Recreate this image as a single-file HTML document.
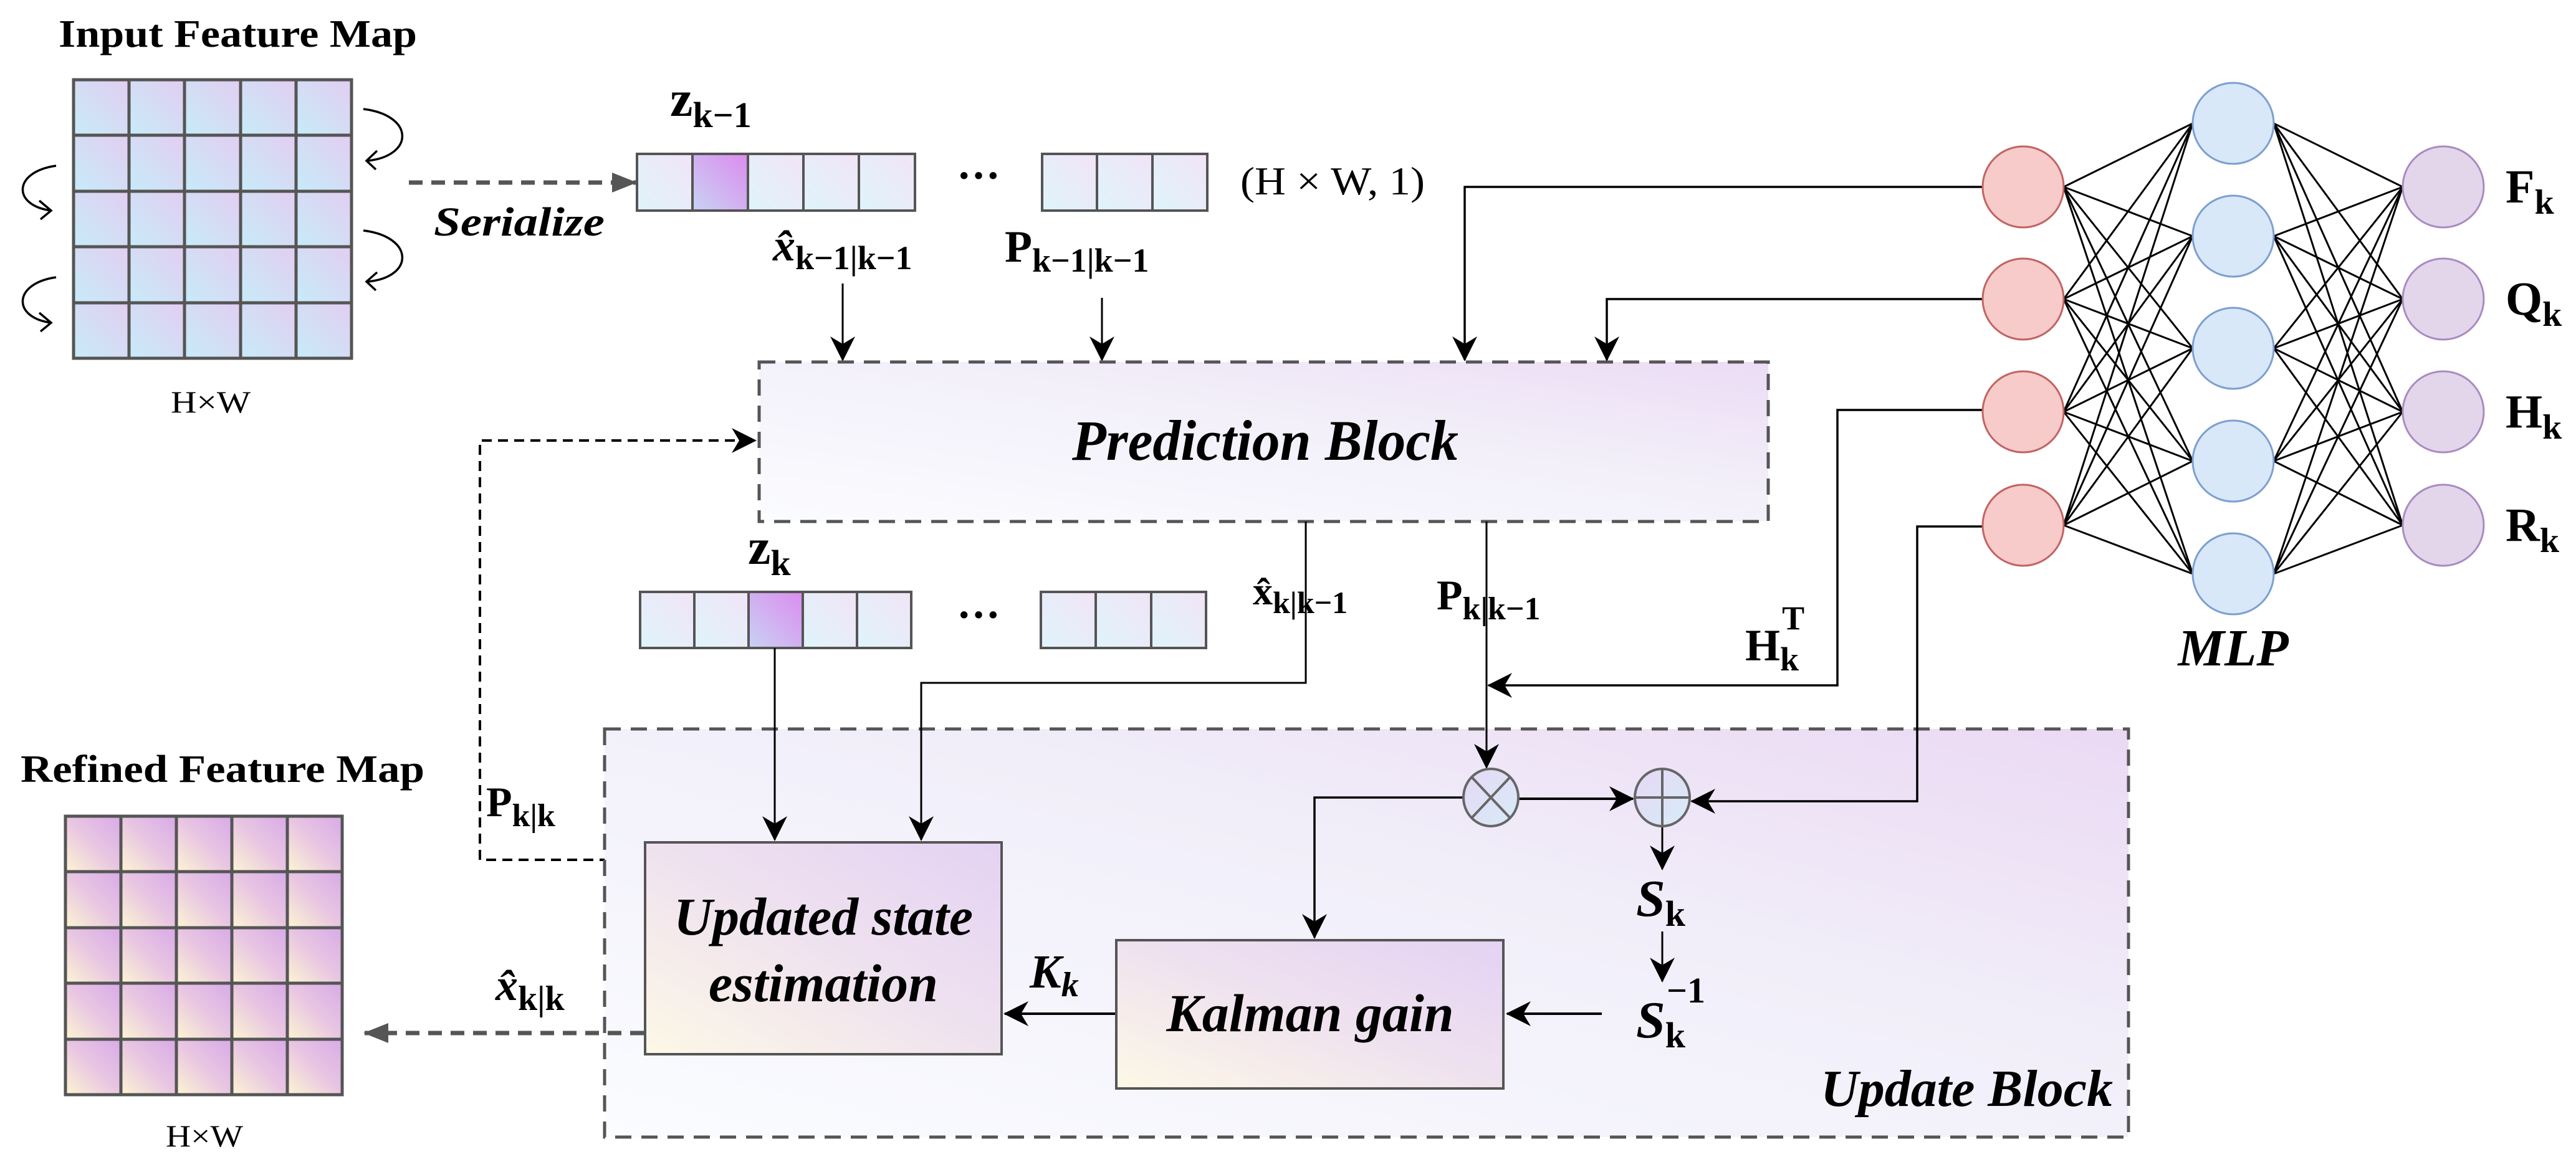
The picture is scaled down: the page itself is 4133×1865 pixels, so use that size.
<!DOCTYPE html>
<html><head><meta charset="utf-8"><style>
html,body{margin:0;padding:0;background:#fff;}
svg{display:block;}
text{font-family:"Liberation Serif",serif;fill:#000;}
.b{font-weight:bold;}
.bi{font-weight:bold;font-style:italic;}
</style></head><body>
<svg width="4133" height="1865" viewBox="0 0 4133 1865" xmlns="http://www.w3.org/2000/svg">
<defs>
<linearGradient id="gin" x1="0" y1="1" x2="1" y2="0"><stop offset="0" stop-color="#c6ecf8"/><stop offset="1" stop-color="#e3cdf1"/></linearGradient>
<linearGradient id="gout" x1="0" y1="1" x2="1" y2="0"><stop offset="0" stop-color="#fdf5d2"/><stop offset="0.5" stop-color="#e8c6e2"/><stop offset="1" stop-color="#d8aae8"/></linearGradient>
<linearGradient id="gbar" x1="0" y1="1" x2="1" y2="0"><stop offset="0" stop-color="#dff4fb"/><stop offset="1" stop-color="#f1e4f6"/></linearGradient>
<linearGradient id="ghi" x1="0" y1="1" x2="1" y2="0"><stop offset="0" stop-color="#c8d2f4"/><stop offset="1" stop-color="#dc8cee"/></linearGradient>
<linearGradient id="gpred" x1="0" y1="1" x2="1" y2="0"><stop offset="0" stop-color="#fbfcff"/><stop offset="0.6" stop-color="#f2eff9"/><stop offset="1" stop-color="#ecdcf5"/></linearGradient>
<linearGradient id="gupd" x1="0" y1="1" x2="1" y2="0"><stop offset="0" stop-color="#fafcff"/><stop offset="0.6" stop-color="#f1eef9"/><stop offset="1" stop-color="#ebd9f3"/></linearGradient>
<linearGradient id="gbox" x1="0" y1="1" x2="1" y2="0"><stop offset="0" stop-color="#fdf8e6"/><stop offset="0.5" stop-color="#efe2ef"/><stop offset="1" stop-color="#e4d2f3"/></linearGradient>
<linearGradient id="gop" x1="0" y1="0" x2="1" y2="1"><stop offset="0" stop-color="#e6d8f4"/><stop offset="1" stop-color="#d7ebf8"/></linearGradient>
<marker id="arb" viewBox="0 0 20 20" refX="19" refY="10" markerWidth="40" markerHeight="40" markerUnits="userSpaceOnUse" orient="auto"><path d="M0,0 L20,10 L0,20 L6,10 Z" fill="#000"/></marker>
<marker id="arg" viewBox="0 0 20 20" refX="19" refY="10" markerWidth="40" markerHeight="40" markerUnits="userSpaceOnUse" orient="auto"><path d="M0,2 L20,10 L0,18 Z" fill="#555"/></marker>
</defs>

<!-- Input feature map -->
<text x="94" y="75" class="b" font-size="62" textLength="575" lengthAdjust="spacingAndGlyphs">Input Feature Map</text>
<g stroke="#555" stroke-width="5">
<rect x="118" y="128" width="89" height="89" fill="url(#gin)"/><rect x="207" y="128" width="89" height="89" fill="url(#gin)"/><rect x="296" y="128" width="90" height="89" fill="url(#gin)"/><rect x="386" y="128" width="89" height="89" fill="url(#gin)"/><rect x="475" y="128" width="89" height="89" fill="url(#gin)"/>
<rect x="118" y="217" width="89" height="90" fill="url(#gin)"/><rect x="207" y="217" width="89" height="90" fill="url(#gin)"/><rect x="296" y="217" width="90" height="90" fill="url(#gin)"/><rect x="386" y="217" width="89" height="90" fill="url(#gin)"/><rect x="475" y="217" width="89" height="90" fill="url(#gin)"/>
<rect x="118" y="307" width="89" height="89" fill="url(#gin)"/><rect x="207" y="307" width="89" height="89" fill="url(#gin)"/><rect x="296" y="307" width="90" height="89" fill="url(#gin)"/><rect x="386" y="307" width="89" height="89" fill="url(#gin)"/><rect x="475" y="307" width="89" height="89" fill="url(#gin)"/>
<rect x="118" y="396" width="89" height="90" fill="url(#gin)"/><rect x="207" y="396" width="89" height="90" fill="url(#gin)"/><rect x="296" y="396" width="90" height="90" fill="url(#gin)"/><rect x="386" y="396" width="89" height="90" fill="url(#gin)"/><rect x="475" y="396" width="89" height="90" fill="url(#gin)"/>
<rect x="118" y="486" width="89" height="89" fill="url(#gin)"/><rect x="207" y="486" width="89" height="89" fill="url(#gin)"/><rect x="296" y="486" width="90" height="89" fill="url(#gin)"/><rect x="386" y="486" width="89" height="89" fill="url(#gin)"/><rect x="475" y="486" width="89" height="89" fill="url(#gin)"/>
</g>
<g fill="none" stroke="#000" stroke-width="3.5">
<path d="M583,175 C665,185 665,250 590,258"/><path d="M605,242 L588,258 L603,272"/>
<path d="M583,370 C665,380 665,445 590,452"/><path d="M605,437 L588,452 L603,466"/>
<path d="M90,266 C20,276 20,330 82,338"/><path d="M63,322 L82,338 L65,352"/>
<path d="M90,445 C20,455 20,510 82,518"/><path d="M63,502 L82,518 L65,532"/>
</g>
<text x="338" y="662" font-size="50" text-anchor="middle" textLength="128" lengthAdjust="spacingAndGlyphs">H×W</text>

<!-- serialize -->
<line x1="656" y1="293" x2="1020" y2="293" stroke="#555" stroke-width="7" stroke-dasharray="22,14" marker-end="url(#arg)"/>
<text x="696" y="378" class="bi" font-size="66" textLength="274" lengthAdjust="spacingAndGlyphs">Serialize</text>

<!-- z_{k-1} bar -->
<text x="1075" y="186" class="b" font-size="82">z<tspan font-size="58" dy="18">k−1</tspan></text>
<g stroke="#555" stroke-width="4">
<rect x="1022" y="247" width="89" height="91" fill="url(#gbar)"/><rect x="1111" y="247" width="89" height="91" fill="url(#ghi)"/><rect x="1200" y="247" width="89" height="91" fill="url(#gbar)"/><rect x="1289" y="247" width="89" height="91" fill="url(#gbar)"/><rect x="1378" y="247" width="90" height="91" fill="url(#gbar)"/>
<rect x="1672" y="247" width="88" height="91" fill="url(#gbar)"/><rect x="1760" y="247" width="89" height="91" fill="url(#gbar)"/><rect x="1849" y="247" width="88" height="91" fill="url(#gbar)"/>
</g>
<text x="1570" y="305" class="b" font-size="70" text-anchor="middle">···</text>
<text x="1990" y="312" font-size="64" textLength="296" lengthAdjust="spacingAndGlyphs">(H × W, 1)</text>
<text x="1240" y="418" class="bi" font-size="72">x̂<tspan font-style="normal" font-size="54" dy="14">k−1|k−1</tspan></text>
<text x="1612" y="420" class="b" font-size="72">P<tspan font-size="54" dy="16">k−1|k−1</tspan></text>
<g stroke="#000" stroke-width="3" fill="none">
<line x1="1352" y1="455" x2="1352" y2="578" marker-end="url(#arb)"/>
<line x1="1768" y1="478" x2="1768" y2="578" marker-end="url(#arb)"/>
</g>

<!-- Prediction block -->
<rect x="1218" y="581" width="1619" height="256" fill="url(#gpred)" stroke="#555" stroke-width="5" stroke-dasharray="26,16"/>
<text x="2030" y="738" class="bi" font-size="92" text-anchor="middle" textLength="620" lengthAdjust="spacingAndGlyphs">Prediction Block</text>

<!-- feedback dashed -->
<path d="M1030,1380 L770,1380 L770,707 L1212,707" fill="none" stroke="#000" stroke-width="4" stroke-dasharray="16,10" marker-end="url(#arb)"/>
<text x="780" y="1310" class="b" font-size="68">P<tspan font-size="52" dy="16">k|k</tspan></text>

<!-- z_k bar -->
<text x="1200" y="905" class="b" font-size="82">z<tspan font-size="58" dy="18">k</tspan></text>
<g stroke="#555" stroke-width="4">
<rect x="1027" y="950" width="87" height="90" fill="url(#gbar)"/><rect x="1114" y="950" width="87" height="90" fill="url(#gbar)"/><rect x="1201" y="950" width="87" height="90" fill="url(#ghi)"/><rect x="1288" y="950" width="87" height="90" fill="url(#gbar)"/><rect x="1375" y="950" width="87" height="90" fill="url(#gbar)"/>
<rect x="1670" y="950" width="88" height="90" fill="url(#gbar)"/><rect x="1758" y="950" width="89" height="90" fill="url(#gbar)"/><rect x="1847" y="950" width="88" height="90" fill="url(#gbar)"/>
</g>
<text x="1570" y="1010" class="b" font-size="70" text-anchor="middle">···</text>
<text x="2010" y="970" class="b" font-size="64">x̂<tspan font-size="50" dy="14">k|k−1</tspan></text>
<text x="2305" y="978" class="b" font-size="68">P<tspan font-size="52" dy="16">k|k−1</tspan></text>
<text x="2800" y="1060" class="b" font-size="72">H<tspan font-size="54" dy="16">k</tspan><tspan font-size="54" dx="-27" dy="-66">T</tspan></text>

<!-- Update block -->
<rect x="970" y="1170" width="2445" height="655" fill="url(#gupd)" stroke="#555" stroke-width="5" stroke-dasharray="26,16"/>
<text x="3390" y="1775" class="bi" font-size="84" text-anchor="end">Update Block</text>

<!-- MLP connectors -->
<g stroke="#000" stroke-width="3.5" fill="none">
<path d="M3181,300 L2350,300 L2350,578" marker-end="url(#arb)"/>
<path d="M3181,480 L2578,480 L2578,578" marker-end="url(#arb)"/>
<path d="M3181,658 L2948,658 L2948,1100 L2388,1100" marker-end="url(#arb)"/>
<path d="M3181,845 L3076,845 L3076,1286 L2714,1286" marker-end="url(#arb)"/>
</g>
<g stroke="#000" stroke-width="3" fill="none">
<path d="M2095,837 L2095,1096 L1478,1096 L1478,1348" marker-end="url(#arb)"/>
<line x1="2385" y1="837" x2="2385" y2="1232" marker-end="url(#arb)"/>
<line x1="1243" y1="1040" x2="1243" y2="1348" marker-end="url(#arb)"/>
</g>

<!-- ops -->
<g stroke="#000" stroke-width="4" fill="none">
<line x1="2437" y1="1282" x2="2620" y2="1282" marker-end="url(#arb)"/>
<path d="M2347,1280 L2109,1280 L2109,1505" marker-end="url(#arb)" stroke-width="3.5"/>
<line x1="2667" y1="1326" x2="2667" y2="1395" marker-end="url(#arb)" stroke-width="3"/>
<line x1="2667" y1="1495" x2="2667" y2="1575" marker-end="url(#arb)" stroke-width="3"/>
<line x1="2570" y1="1627" x2="2418" y2="1627" marker-end="url(#arb)"/>
<line x1="1791" y1="1627" x2="1612" y2="1627" marker-end="url(#arb)"/>
</g>
<g stroke="#666" stroke-width="4">
<ellipse cx="2392" cy="1280" rx="44" ry="46" fill="url(#gop)"/>
<line x1="2361" y1="1247" x2="2423" y2="1313"/><line x1="2423" y1="1247" x2="2361" y2="1313"/>
<ellipse cx="2667" cy="1280" rx="44" ry="46" fill="url(#gop)"/>
<line x1="2623" y1="1280" x2="2711" y2="1280"/><line x1="2667" y1="1234" x2="2667" y2="1326"/>
</g>
<text x="2625" y="1470" class="bi" font-size="84">S<tspan font-style="normal" font-size="58" dy="16">k</tspan></text>
<text x="2625" y="1665" class="bi" font-size="84">S<tspan font-style="normal" font-size="58" dy="16">k</tspan><tspan font-style="normal" font-size="58" dx="-30" dy="-72">−1</tspan></text>

<!-- boxes -->
<rect x="1035" y="1352" width="572" height="340" fill="url(#gbox)" stroke="#555" stroke-width="4"/>
<text x="1321" y="1500" class="bi" font-size="86" text-anchor="middle">Updated state</text>
<text x="1321" y="1607" class="bi" font-size="86" text-anchor="middle">estimation</text>
<rect x="1791" y="1509" width="621" height="238" fill="url(#gbox)" stroke="#555" stroke-width="4"/>
<text x="2102" y="1655" class="bi" font-size="86" text-anchor="middle">Kalman gain</text>
<text x="1652" y="1585" class="bi" font-size="76">K<tspan font-size="56" dy="14">k</tspan></text>

<!-- output -->
<line x1="1033" y1="1658" x2="585" y2="1658" stroke="#555" stroke-width="7" stroke-dasharray="22,14" marker-end="url(#arg)"/>
<text x="795" y="1605" class="bi" font-size="72">x̂<tspan font-style="normal" font-size="56" dy="16">k|k</tspan></text>

<text x="33" y="1255" class="b" font-size="62" textLength="648" lengthAdjust="spacingAndGlyphs">Refined Feature Map</text>
<g stroke="#555" stroke-width="5">
<rect x="105" y="1310" width="89" height="89" fill="url(#gout)"/><rect x="194" y="1310" width="89" height="89" fill="url(#gout)"/><rect x="283" y="1310" width="89" height="89" fill="url(#gout)"/><rect x="372" y="1310" width="89" height="89" fill="url(#gout)"/><rect x="461" y="1310" width="88" height="89" fill="url(#gout)"/>
<rect x="105" y="1399" width="89" height="90" fill="url(#gout)"/><rect x="194" y="1399" width="89" height="90" fill="url(#gout)"/><rect x="283" y="1399" width="89" height="90" fill="url(#gout)"/><rect x="372" y="1399" width="89" height="90" fill="url(#gout)"/><rect x="461" y="1399" width="88" height="90" fill="url(#gout)"/>
<rect x="105" y="1489" width="89" height="89" fill="url(#gout)"/><rect x="194" y="1489" width="89" height="89" fill="url(#gout)"/><rect x="283" y="1489" width="89" height="89" fill="url(#gout)"/><rect x="372" y="1489" width="89" height="89" fill="url(#gout)"/><rect x="461" y="1489" width="88" height="89" fill="url(#gout)"/>
<rect x="105" y="1578" width="89" height="90" fill="url(#gout)"/><rect x="194" y="1578" width="89" height="90" fill="url(#gout)"/><rect x="283" y="1578" width="89" height="90" fill="url(#gout)"/><rect x="372" y="1578" width="89" height="90" fill="url(#gout)"/><rect x="461" y="1578" width="88" height="90" fill="url(#gout)"/>
<rect x="105" y="1668" width="89" height="89" fill="url(#gout)"/><rect x="194" y="1668" width="89" height="89" fill="url(#gout)"/><rect x="283" y="1668" width="89" height="89" fill="url(#gout)"/><rect x="372" y="1668" width="89" height="89" fill="url(#gout)"/><rect x="461" y="1668" width="88" height="89" fill="url(#gout)"/>
</g>
<text x="328" y="1840" font-size="50" text-anchor="middle" textLength="124" lengthAdjust="spacingAndGlyphs">H×W</text>

<!-- MLP -->
<g stroke="#000" stroke-width="3">
<line x1="3311" y1="300" x2="3518" y2="198"/><line x1="3311" y1="300" x2="3518" y2="379"/><line x1="3311" y1="300" x2="3518" y2="559"/><line x1="3311" y1="300" x2="3518" y2="740"/><line x1="3311" y1="300" x2="3518" y2="921"/>
<line x1="3311" y1="480" x2="3518" y2="198"/><line x1="3311" y1="480" x2="3518" y2="379"/><line x1="3311" y1="480" x2="3518" y2="559"/><line x1="3311" y1="480" x2="3518" y2="740"/><line x1="3311" y1="480" x2="3518" y2="921"/>
<line x1="3311" y1="661" x2="3518" y2="198"/><line x1="3311" y1="661" x2="3518" y2="379"/><line x1="3311" y1="661" x2="3518" y2="559"/><line x1="3311" y1="661" x2="3518" y2="740"/><line x1="3311" y1="661" x2="3518" y2="921"/>
<line x1="3311" y1="843" x2="3518" y2="198"/><line x1="3311" y1="843" x2="3518" y2="379"/><line x1="3311" y1="843" x2="3518" y2="559"/><line x1="3311" y1="843" x2="3518" y2="740"/><line x1="3311" y1="843" x2="3518" y2="921"/>
<line x1="3648" y1="198" x2="3855" y2="300"/><line x1="3648" y1="198" x2="3855" y2="480"/><line x1="3648" y1="198" x2="3855" y2="661"/><line x1="3648" y1="198" x2="3855" y2="843"/>
<line x1="3648" y1="379" x2="3855" y2="300"/><line x1="3648" y1="379" x2="3855" y2="480"/><line x1="3648" y1="379" x2="3855" y2="661"/><line x1="3648" y1="379" x2="3855" y2="843"/>
<line x1="3648" y1="559" x2="3855" y2="300"/><line x1="3648" y1="559" x2="3855" y2="480"/><line x1="3648" y1="559" x2="3855" y2="661"/><line x1="3648" y1="559" x2="3855" y2="843"/>
<line x1="3648" y1="740" x2="3855" y2="300"/><line x1="3648" y1="740" x2="3855" y2="480"/><line x1="3648" y1="740" x2="3855" y2="661"/><line x1="3648" y1="740" x2="3855" y2="843"/>
<line x1="3648" y1="921" x2="3855" y2="300"/><line x1="3648" y1="921" x2="3855" y2="480"/><line x1="3648" y1="921" x2="3855" y2="661"/><line x1="3648" y1="921" x2="3855" y2="843"/>
</g>
<g stroke="#c26361" stroke-width="3" fill="#f6cbca">
<ellipse cx="3246" cy="300" rx="65" ry="65"/><ellipse cx="3246" cy="480" rx="65" ry="65"/><ellipse cx="3246" cy="661" rx="65" ry="65"/><ellipse cx="3246" cy="843" rx="65" ry="65"/>
</g>
<g stroke="#7d9fcf" stroke-width="3" fill="#d8e8f9">
<ellipse cx="3583" cy="198" rx="65" ry="65"/><ellipse cx="3583" cy="379" rx="65" ry="65"/><ellipse cx="3583" cy="559" rx="65" ry="65"/><ellipse cx="3583" cy="740" rx="65" ry="65"/><ellipse cx="3583" cy="921" rx="65" ry="65"/>
</g>
<g stroke="#a98bc2" stroke-width="3" fill="#e3d6eb">
<ellipse cx="3920" cy="300" rx="65" ry="65"/><ellipse cx="3920" cy="480" rx="65" ry="65"/><ellipse cx="3920" cy="661" rx="65" ry="65"/><ellipse cx="3920" cy="843" rx="65" ry="65"/>
</g>
<text x="4020" y="325" class="b" font-size="76">F<tspan font-size="56" dy="18">k</tspan></text>
<text x="4020" y="505" class="b" font-size="76">Q<tspan font-size="56" dy="18">k</tspan></text>
<text x="4020" y="686" class="b" font-size="76">H<tspan font-size="56" dy="18">k</tspan></text>
<text x="4020" y="868" class="b" font-size="76">R<tspan font-size="56" dy="18">k</tspan></text>
<text x="3583" y="1068" class="bi" font-size="84" text-anchor="middle">MLP</text>
</svg>
</body></html>
